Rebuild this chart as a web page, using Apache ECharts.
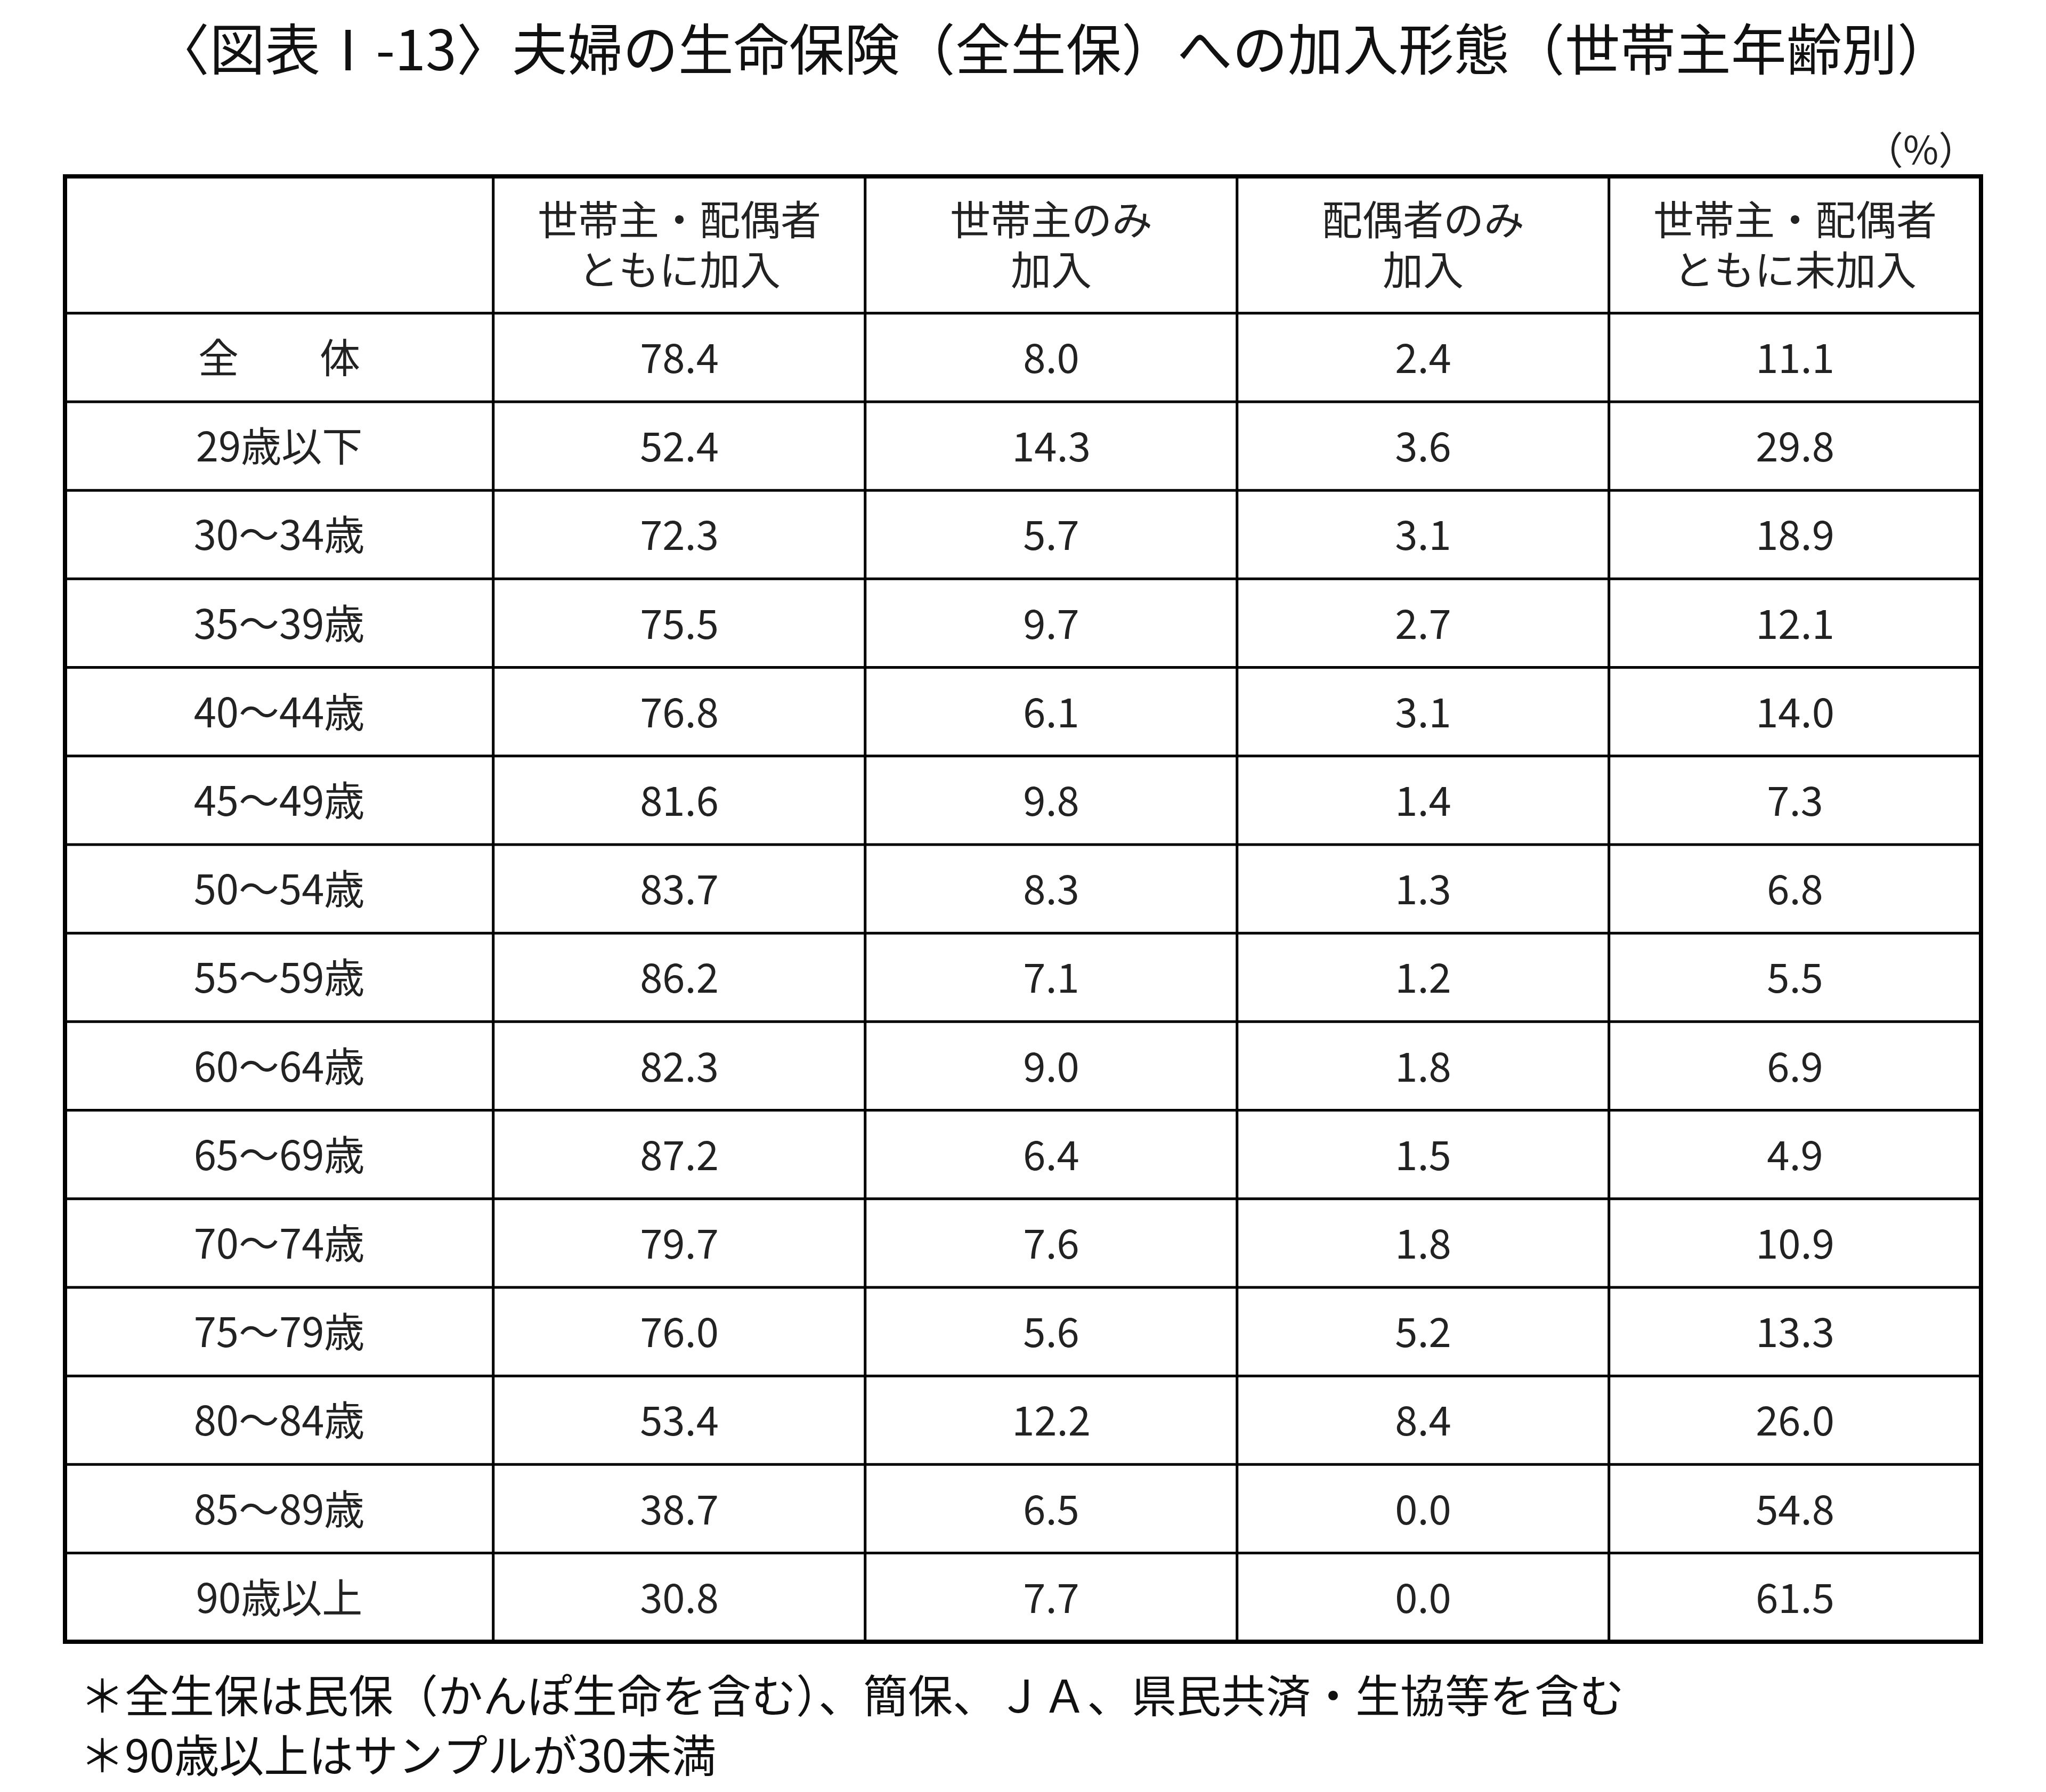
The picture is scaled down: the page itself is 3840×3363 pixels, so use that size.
<!DOCTYPE html>
<html><head><meta charset="utf-8">
<script src="https://cdn.jsdelivr.net/npm/echarts@6/dist/echarts.min.js"></script>
<style>html,body{margin:0;background:#fff}#c{width:3840px;height:3363px}</style>
</head><body><div id="c"></div>
<script>
const rowLabels=['全　　体','29歳以下','30～34歳','35～39歳','40～44歳','45～49歳','50～54歳','55～59歳','60～64歳','65～69歳','70～74歳','75～79歳','80～84歳','85～89歳','90歳以上'];
const colHeaders=['世帯主・配偶者\nともに加入','世帯主のみ\n加入','配偶者のみ\n加入','世帯主・配偶者\nともに未加入'];
const bothJoined=[78.4,52.4,72.3,75.5,76.8,81.6,83.7,86.2,82.3,87.2,79.7,76.0,53.4,38.7,30.8];
const headOnly=[8.0,14.3,5.7,9.7,6.1,9.8,8.3,7.1,9.0,6.4,7.6,5.6,12.2,6.5,7.7];
const spouseOnly=[2.4,3.6,3.1,2.7,3.1,1.4,1.3,1.2,1.8,1.5,1.8,5.2,8.4,0.0,0.0];
const neither=[11.1,29.8,18.9,12.1,14.0,7.3,6.8,5.5,6.9,4.9,10.9,13.3,26.0,54.8,61.5];
const cols=[bothJoined,headOnly,spouseOnly,neither];
const F='"Noto Sans CJK JP"';
const fs=76;
const bodyData=[];cols.forEach((a,i)=>a.forEach((v,j)=>bodyData.push([i,j,v])));
const labelData=rowLabels.map((_,j)=>[0,j,0]);
const hdrData=colHeaders.map((_,i)=>[i,0,0]);
const cell={color:'#fff',borderColor:'#000',borderWidth:5};
const grids=[
 {left:122,top:331,width:804,height:257},
 {left:926,top:331,width:2792,height:257},
 {left:122,top:588,width:804,height:2493},
 {left:926,top:588,width:2792,height:2493}];
const ax=(n,g,inv)=>({type:'category',gridIndex:g,data:Array.from({length:n},(_,i)=>i),show:false,inverse:inv});
const ch=echarts.init(document.getElementById('c'));
ch.setOption({
 backgroundColor:'#fff',animation:false,
 title:{text:'〈図表Ⅰ-13〉夫婦の生命保険（全生保）への加入形態（世帯主年齢別）',left:1972,top:35,textAlign:'center',textStyle:{fontFamily:F,fontSize:104,fontWeight:'normal',color:'#111'}},
 graphic:[
  {type:'text',left:3500,top:245,style:{text:'（%）',font:'72px '+F,fill:'#222'}},
  {type:'text',left:150,top:3140,style:{text:'＊全生保は民保（かんぽ生命を含む）、簡保、ＪＡ、県民共済・生協等を含む',font:'84px '+F,fill:'#111'}},
  {type:'text',left:150,top:3252,style:{text:'＊90歳以上はサンプルが30未満',font:'84px '+F,fill:'#111'}},
  {type:'rect',shape:{x:122,y:331,width:3596,height:2750},style:{fill:'none',stroke:'#000',lineWidth:8},z:100}
 ],
 grid:grids,
 xAxis:[ax(1,0),ax(4,1),ax(1,2),ax(4,3)],
 yAxis:[ax(1,0,true),ax(1,1,true),ax(15,2,true),ax(15,3,true)],
 series:[
  {type:'heatmap',xAxisIndex:0,yAxisIndex:0,data:[[0,0,0]],itemStyle:cell,label:{show:false}},
  {type:'heatmap',xAxisIndex:1,yAxisIndex:1,data:hdrData,itemStyle:cell,label:{show:true,fontFamily:F,fontSize:fs,color:'#222',lineHeight:94,formatter:p=>colHeaders[p.data[0]]}},
  {type:'heatmap',xAxisIndex:2,yAxisIndex:2,data:labelData,itemStyle:cell,label:{show:true,fontFamily:F,fontSize:fs,color:'#222',formatter:p=>rowLabels[p.data[1]]}},
  {type:'heatmap',xAxisIndex:3,yAxisIndex:3,data:bodyData,itemStyle:cell,label:{show:true,fontFamily:F,fontSize:fs,color:'#222',formatter:p=>p.data[2].toFixed(1)}}
 ]
});
</script></body></html>
